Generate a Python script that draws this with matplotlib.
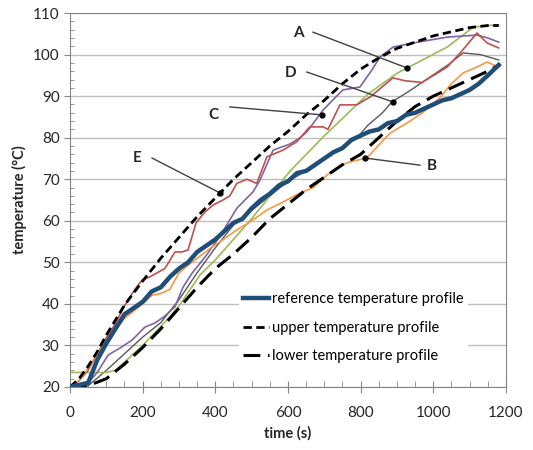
import numpy as np
import matplotlib.pyplot as plt
from matplotlib.ticker import MultipleLocator

plt.rcParams['font.family'] = ['Lato', 'DejaVu Sans']

# reference temperature profile (thick blue)
t_ref = [0, 25, 50, 75, 100, 125, 150, 175, 200, 225, 250, 275, 300, 325, 350, 375, 400, 425, 450, 475,
         500, 525, 550, 575, 600, 625, 650, 675, 700, 725, 750, 775, 800, 825, 850, 875, 900, 925, 950,
         975, 1000, 1025, 1050, 1075, 1100, 1125, 1150, 1180]
T_ref = [20, 20.5, 21, 26.5, 30.5, 34, 37.5, 39, 40.5, 43, 44, 46.5, 48.5, 50, 52.5, 54, 55.5, 57.5, 59.5, 60.5,
         63, 65, 66.5, 68.5, 69.5, 71.5, 72, 73.5, 75, 76.5, 77.5, 79.5, 80.5, 81.5, 82, 83.5, 84, 85.5, 86,
         87, 88, 89, 89.5, 90.5, 91.5, 93, 95, 97.5]

# upper / lower profiles
t_up = [0, 25, 50, 75, 100, 150, 200, 250, 300, 350, 400, 450, 500, 550, 600, 650, 700, 750, 800, 850,
        900, 950, 1000, 1050, 1100, 1150, 1180]
T_up = [20, 22, 25, 28.5, 32.5, 39.7, 45.5, 51, 56, 61, 65.5, 70, 74, 78, 81.5, 85.5, 89, 93, 96.5, 99.2,
        101.5, 103, 104.5, 105.5, 106.5, 107, 107]
t_lo = [0, 50, 100, 150, 200, 250, 300, 350, 400, 450, 500, 550, 600, 650, 700, 750, 800, 850, 900, 950,
        1000, 1050, 1100, 1150, 1180]
T_lo = [20, 20.3, 22, 25.5, 29.5, 34, 39, 44, 48.5, 52, 56, 60.5, 64, 67.5, 70.5, 73.5, 76, 80, 84, 87.5,
        90, 92, 94, 96, 97.5]

# measured runs
t_red = [0, 25, 50, 75, 96, 120, 150, 175, 198, 220, 240, 261, 289, 308, 325, 347, 370, 394, 421, 440, 459,
         487, 514, 542, 586, 624, 660, 697, 710, 743, 789, 826, 889, 922, 969, 1038, 1080, 1120, 1148, 1180]
T_red = [20, 21.5, 24, 28, 31.3, 34.5, 39.5, 43, 45.7, 46.5, 47.5, 48.5, 52.5, 52.5, 53, 59.5, 62, 63.8, 65, 66, 69,
         70, 69, 75.4, 77, 79, 82.6, 82.6, 82, 87.9, 87.9, 89.8, 94.4, 93.7, 93.3, 97, 101, 105.2, 102.8, 101.6]

t_pu = [0, 25, 50, 75, 105, 140, 171, 206, 234, 260, 289, 311, 336, 372, 399, 421, 459, 504, 523, 559, 606,
        633, 652, 697, 751, 798, 831, 853, 889, 944, 1038, 1120, 1150, 1180]
T_pu = [20, 20.5, 21, 23.5, 27.7, 29.5, 31.3, 34.4, 35.4, 37, 39.3, 44, 47.4, 51.3, 54.6, 57.5, 63, 67, 69.8, 77, 78.5,
        80, 81.4, 86.7, 91.5, 92.2, 96.3, 99.4, 101.8, 102.8, 104.2, 104.7, 104, 103]

t_gr = [0, 50, 100, 125, 150, 200, 261, 300, 358, 400, 500, 606, 697, 820, 900, 1038, 1110, 1150, 1180]
T_gr = [23.5, 23.5, 23.5, 24, 26, 30, 35.6, 39.5, 47, 50.6, 60.5, 72, 80.2, 90.5, 95.5, 101.8, 106.6, 107, 107.1]

t_gy = [0, 50, 100, 150, 200, 250, 300, 350, 400, 450, 500, 550, 600, 650, 700, 750, 790, 820, 860, 886,
        930, 991, 1040, 1082, 1130, 1180]
T_gy = [20, 20.3, 24, 28, 32, 35.5, 41, 47.5, 53.5, 59, 62.5, 66, 69.5, 72, 75, 77.5, 80, 83, 86, 88.6,
        91, 94.6, 97.5, 100.4, 100, 98.7]

t_or = [0, 25, 50, 75, 100, 150, 200, 226, 250, 275, 300, 344, 391, 430, 459, 500, 542, 586, 633, 670, 707,
        750, 771, 817, 845, 881, 927, 970, 1018, 1050, 1082, 1120, 1148, 1180]
T_or = [20, 21.5, 24.5, 28, 31, 36.5, 40, 42.1, 42.5, 43.5, 47.5, 50.6, 53.7, 56, 57.8, 60, 62.6, 64.5, 66.7, 68,
        71, 73.5, 74.2, 75.1, 77.8, 81.1, 83.5, 86, 89.6, 93, 95.6, 97, 98.2, 97]

# annotation letters: (label, text pos, line start, dot)
labels = ['A', 'D', 'C', 'E', 'B']
text_xy = [(628, 105.2), (608, 95.6), (394, 85.5), (184, 75.1), (996, 73.2)]
line_start = [(669, 105.4), (652, 95.8), (440, 87.4), (226, 75.1), (963, 73.4)]
dot_xy = [(927, 96.8), (889, 88.6), (693, 85.5), (413, 66.7), (812, 75.1)]

fig = plt.figure(figsize=(5.33, 4.5), dpi=100)
ax = fig.add_axes([0.1313, 0.14, 0.818, 0.831])

ax.plot(t_gy, T_gy, color='#595959', lw=1.0, zorder=2)
ax.plot(t_gr, T_gr, color='#9BBB59', lw=1.2, zorder=2)
ax.plot(t_pu, T_pu, color='#8064A2', lw=1.2, zorder=2)
ax.plot(t_red, T_red, color='#C0504D', lw=1.2, zorder=2)
ax.plot(t_or, T_or, color='#F79646', lw=1.2, zorder=2)
up, = ax.plot(t_up, T_up, color='black', lw=2.0, dashes=(3, 1.6), zorder=3,
              label='upper temperature profile')
lo, = ax.plot(t_lo, T_lo, color='black', lw=2.2, dashes=(5.5, 2.5), zorder=3,
              label='lower temperature profile')
ref, = ax.plot(t_ref, T_ref, color='#1F4E79', lw=3.2, zorder=4,
               label='reference temperature profile')

for lab, txy, s, d in zip(labels, text_xy, line_start, dot_xy):
    ax.plot([s[0], d[0]], [s[1], d[1]], color='#404040', lw=1.0, zorder=5)
    ax.plot(d[0], d[1], 'o', color='black', ms=3.5, zorder=6)
    ax.text(txy[0], txy[1], lab, fontsize=11, fontweight='bold', color='#262626',
            ha='center', va='center', zorder=6)

ax.set_xlim(0, 1200)
ax.set_ylim(20, 110)
ax.xaxis.set_major_locator(MultipleLocator(200))
ax.xaxis.set_minor_locator(MultipleLocator(50))
ax.yaxis.set_major_locator(MultipleLocator(10))
ax.yaxis.set_minor_locator(MultipleLocator(2))
ax.yaxis.grid(True, which='major', color='#BFBFBF', lw=1.0, zorder=0)
ax.set_axisbelow(True)
ax.tick_params(axis='both', which='major', labelsize=11, colors='#868686', labelcolor='#262626')
ax.tick_params(axis='x', which='major', direction='inout', length=8, pad=10)
ax.tick_params(axis='x', which='minor', direction='in', length=4, colors='#868686')
ax.tick_params(axis='y', which='major', direction='out', length=4)
ax.tick_params(axis='y', which='minor', direction='in', length=3, colors='#868686')
for sp in ax.spines.values():
    sp.set_color('#868686')

ax.set_xlabel('time (s)', fontsize=10.5, fontweight='bold', color='#262626')
ax.set_ylabel('temperature (°C)', fontsize=10.5, fontweight='bold', color='#262626')

leg = ax.legend(handles=[ref, up, lo], loc='upper left', bbox_to_anchor=(0.37, 0.285),
                fontsize=10.5, frameon=True, framealpha=1, edgecolor='none', fancybox=False,
                labelspacing=1.0, handlelength=1.8, handletextpad=0.2, borderpad=0.3)
leg.set_zorder(7)

fig.savefig('out.png', dpi=100)
